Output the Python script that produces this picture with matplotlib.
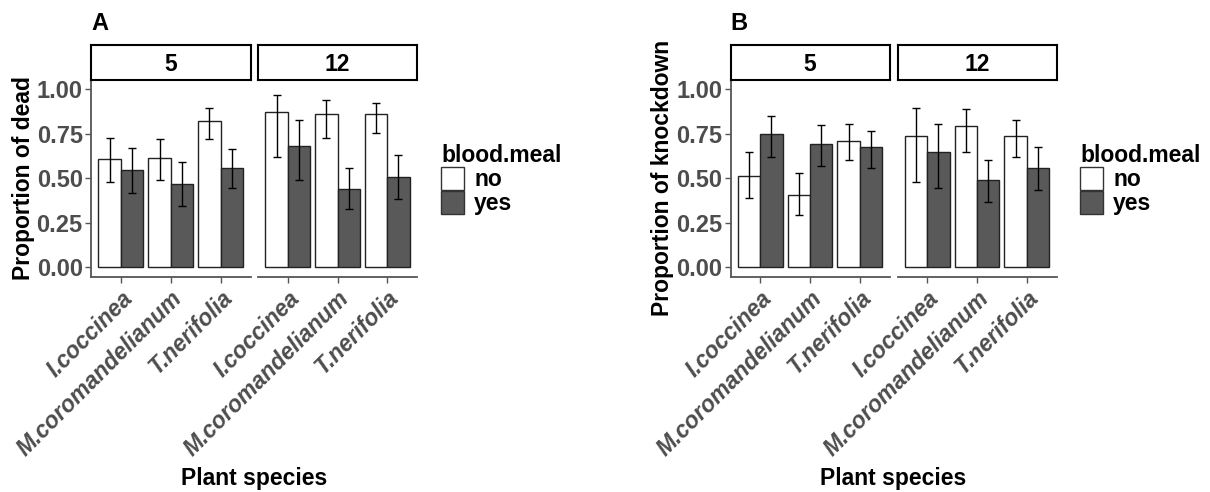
import matplotlib.pyplot as plt
from matplotlib.patches import Patch
import numpy as np

plt.rcParams['font.family'] = ['Liberation Sans', 'DejaVu Sans']

# Data (rows: exposure time 5, 12; columns: plant species)
species = ["I.coccinea", "M.coromandelianum", "T.nerifolia"]
times = ["5", "12"]
meal_levels = ["no", "yes"]

dead_no_mean = [[0.607, 0.611, 0.823], [0.870, 0.863, 0.859]]
dead_no_lo = [[0.476, 0.487, 0.718], [0.622, 0.729, 0.756]]
dead_no_hi = [[0.727, 0.720, 0.893], [0.968, 0.938, 0.925]]
dead_yes_mean = [[0.545, 0.466, 0.556], [0.682, 0.440, 0.508]]
dead_yes_lo = [[0.414, 0.346, 0.447], [0.487, 0.325, 0.385]]
dead_yes_hi = [[0.671, 0.592, 0.664], [0.829, 0.560, 0.628]]

kd_no_mean = [[0.515, 0.404, 0.712], [0.735, 0.793, 0.735]]
kd_no_lo = [[0.389, 0.291, 0.600], [0.481, 0.648, 0.618]]
kd_no_hi = [[0.645, 0.530, 0.806], [0.895, 0.889, 0.829]]
kd_yes_mean = [[0.750, 0.694, 0.675], [0.645, 0.489, 0.556]]
kd_yes_lo = [[0.617, 0.570, 0.558], [0.444, 0.368, 0.432]]
kd_yes_hi = [[0.848, 0.797, 0.767], [0.805, 0.605, 0.673]]

yticks = [0.0, 0.25, 0.5, 0.75, 1.0]
ytick_labels = ["0.00", "0.25", "0.50", "0.75", "1.00"]

fill_colors = {"no": "white", "yes": "#595959"}
W, H = 1210, 492
fig = plt.figure(figsize=(W / 100, H / 100), dpi=100)

gray_txt = "#4D4D4D"
axis_col = "#555555"
fs = 16.5


def px_axes(x0, x1, y0, y1):
    return fig.add_axes([x0 / W, 1 - y1 / H, (x1 - x0) / W, (y1 - y0) / H])


def draw_panel(letter, ylabel, facets_x, label_x, legend_x, series):
    y_top, y_bot = 80, 276.7
    for k, (x0, x1) in enumerate(facets_x):
        ax = px_axes(x0, x1, y_top, y_bot)
        x = np.arange(1, len(species) + 1)
        width = 0.45
        for j, meal in enumerate(meal_levels):
            mean, lo, hi = series[meal]
            m = np.array(mean[k])
            err = [m - np.array(lo[k]), np.array(hi[k]) - m]
            pos = x + (j - 0.5) * width
            ax.bar(pos, m, width=width, color=fill_colors[meal],
                   edgecolor="#222222", linewidth=1.0, zorder=2)
            ax.errorbar(pos, m, yerr=err, fmt="none", ecolor="black",
                        elinewidth=1.0, capsize=2.8, capthick=1.0, zorder=3)
        ax.set_xlim(0.4, 3.6)
        ax.set_ylim(-0.055, 1.053)
        for s in ["top", "right"]:
            ax.spines[s].set_visible(False)
        ax.spines["bottom"].set_color(axis_col)
        ax.spines["bottom"].set_linewidth(1.3)
        ax.set_xticks(x)
        ax.set_xticklabels(species, rotation=45, ha="right", va="top",
                           rotation_mode="anchor", color=gray_txt,
                           fontsize=fs, fontweight="bold", style="italic")
        ax.tick_params(axis="x", length=4, width=1.0, color=axis_col, pad=3)
        if k == 0:
            ax.spines["left"].set_color(axis_col)
            ax.spines["left"].set_linewidth(1.3)
            ax.set_yticks(yticks)
            ax.set_yticklabels(ytick_labels, color=gray_txt, fontsize=17,
                               fontweight="bold")
            ax.tick_params(axis="y", length=4, width=1.0, color=axis_col, pad=2)
        else:
            ax.spines["left"].set_visible(False)
            ax.set_yticks([])
        # facet strip
        st = px_axes(x0, x1, 45, y_top)
        st.set_xticks([])
        st.set_yticks([])
        for s in st.spines.values():
            s.set_linewidth(1.5)
            s.set_color("black")
        st.text(0.5, 0.45, times[k], ha="center", va="center",
                fontsize=fs, fontweight="bold", transform=st.transAxes)

    xc = (facets_x[0][0] + facets_x[-1][1]) / 2
    fig.text(xc / W, 1 - 478 / H, "Plant species", ha="center", va="center",
             fontsize=16.5, fontweight="bold")
    fig.text(label_x / W, 1 - 178 / H, ylabel, rotation=90, ha="center",
             va="center", fontsize=16.5, fontweight="bold")
    fig.text(facets_x[0][0] / W, 1 - 24 / H, letter, ha="left", va="center",
             fontsize=17, fontweight="bold")
    handles = [Patch(facecolor=fill_colors[m], edgecolor="#333333", linewidth=1.0)
               for m in meal_levels]
    fig.legend(handles, meal_levels, title="blood.meal", loc="upper left",
               bbox_to_anchor=(legend_x / W, 1 - 144 / H), frameon=False,
               handlelength=1.0, handleheight=1.15, labelspacing=0.0,
               handletextpad=0.45, borderpad=0, borderaxespad=0,
               alignment="left",
               prop={"weight": "bold", "size": fs},
               title_fontproperties={"weight": "bold", "size": fs})


draw_panel("A", "Proportion of dead", [(91, 250.5), (258, 417)], 24, 441,
           {"no": (dead_no_mean, dead_no_lo, dead_no_hi),
            "yes": (dead_yes_mean, dead_yes_lo, dead_yes_hi)})
draw_panel("B", "Proportion of knockdown", [(730.5, 889.5), (897.5, 1056.5)],
           663, 1080,
           {"no": (kd_no_mean, kd_no_lo, kd_no_hi),
            "yes": (kd_yes_mean, kd_yes_lo, kd_yes_hi)})

fig.savefig("out.png", dpi=100, facecolor="white")
